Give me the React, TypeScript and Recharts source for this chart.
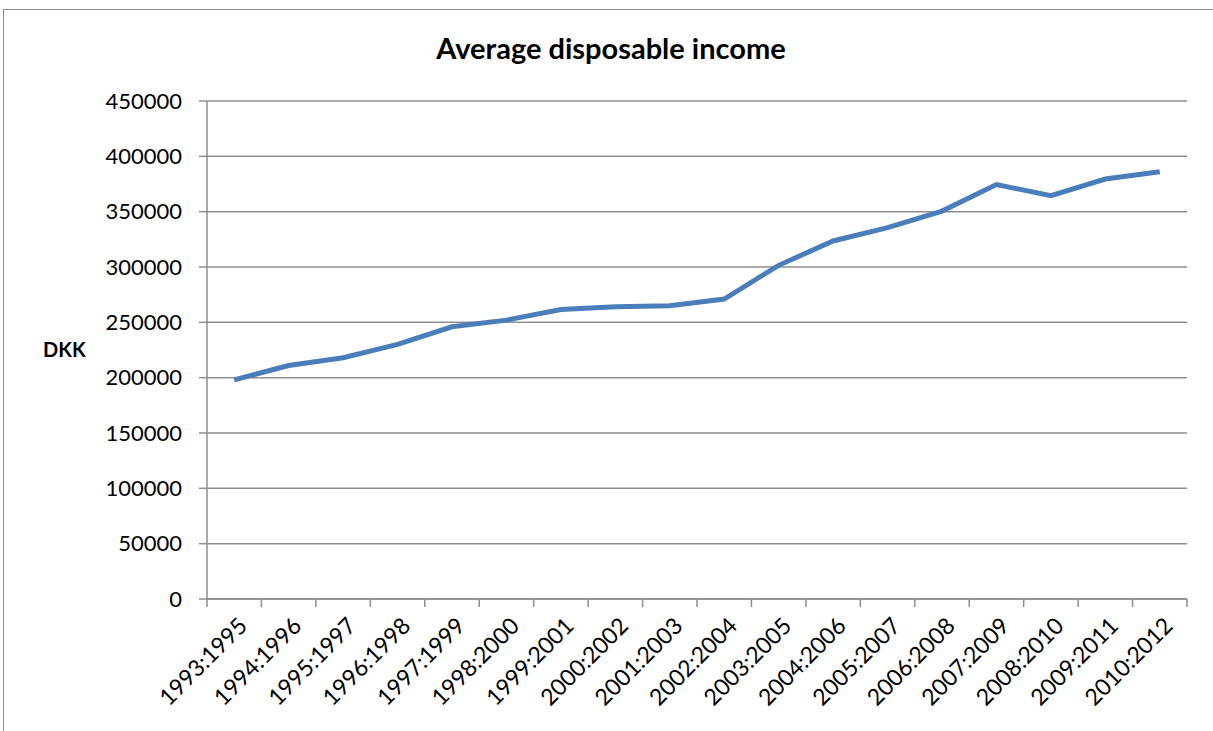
import { CartesianGrid, Line, LineChart, XAxis, YAxis } from "recharts";

const periods = [
  "1993:1995", "1994:1996", "1995:1997", "1996:1998", "1997:1999", "1998:2000",
  "1999:2001", "2000:2002", "2001:2003", "2002:2004", "2003:2005", "2004:2006",
  "2005:2007", "2006:2008", "2007:2009", "2008:2010", "2009:2011", "2010:2012",
];

const income = [
  198000, 211000, 218000, 230000, 246000, 252000,
  261500, 264000, 265000, 271000, 301500, 323500,
  335500, 350500, 374500, 364500, 379500, 386000,
];

const yTicks = [0, 50000, 100000, 150000, 200000, 250000, 300000, 350000, 400000, 450000];

const data = periods.map((period, i) => ({ period, income: income[i] }));

const FONT = "Lato, 'Open Sans', sans-serif";
const GREY = "#8e8e8e";

function PeriodTick(props: any) {
  const { x, payload, index, visibleTicksCount } = props;
  const half = payload?.offset ?? 27.2;
  const axisY = 599;
  const tx = x + 8;
  const ty = axisY + 22;
  return (
    <g>
      <line x1={x - half} x2={x - half} y1={axisY} y2={axisY + 8} stroke={GREY} strokeWidth={1.5} />
      {index === visibleTicksCount - 1 && (
        <line x1={x + half} x2={x + half} y1={axisY} y2={axisY + 8} stroke={GREY} strokeWidth={1.5} />
      )}
      <text
        x={tx}
        y={ty}
        textAnchor="end"
        dominantBaseline="central"
        transform={`rotate(-45, ${tx}, ${ty})`}
        fontFamily={FONT}
        fontSize={23}
        fill="#000"
      >
        {payload.value}
      </text>
    </g>
  );
}

export default function App() {
  return (
    <div style={{ position: "fixed", left: 0, top: 0, width: 1213, height: 731, background: "#fff" }}>
      <div
        style={{
          position: "absolute",
          left: 3,
          top: 9,
          width: 1240,
          height: 760,
          borderLeft: `1.5px solid ${GREY}`,
          borderTop: `1.5px solid ${GREY}`,
        }}
      />
      <div
        style={{
          position: "absolute",
          left: 0,
          width: 1222,
          top: 30,
          textAlign: "center",
          fontFamily: FONT,
          fontWeight: 700,
          fontSize: 29,
          color: "#000",
        }}
      >
        Average disposable income
      </div>
      <div style={{ position: "absolute", left: 0, top: 0 }}>
        <LineChart
          width={1213}
          height={731}
          data={data}
          margin={{ top: 101, right: 26, left: 7, bottom: 0 }}
        >
          <CartesianGrid vertical={false} stroke={GREY} strokeWidth={1.5} />
          <XAxis
            dataKey="period"
            scale="band"
            interval={0}
            axisLine={{ stroke: GREY, strokeWidth: 1.5 }}
            tickLine={false}
            tick={<PeriodTick />}
            height={132}
          />
          <YAxis
            domain={[0, 450000]}
            ticks={yTicks}
            width={200}
            interval={0}
            axisLine={{ stroke: GREY, strokeWidth: 1.5 }}
            tickLine={{ stroke: GREY, strokeWidth: 1.5 }}
            tickSize={8}
            tickMargin={17}
            tick={{ fontFamily: FONT, fontSize: 22, fill: "#000" }}
            label={{
              value: "DKK",
              position: "insideLeft",
              offset: 36,
              style: { fontFamily: FONT, fontWeight: 700, fontSize: 20, fill: "#000" },
            }}
          />
          <Line
            type="linear"
            dataKey="income"
            stroke="#4a7ebb"
            strokeWidth={5}
            dot={false}
            isAnimationActive={false}
          />
        </LineChart>
      </div>
    </div>
  );
}
